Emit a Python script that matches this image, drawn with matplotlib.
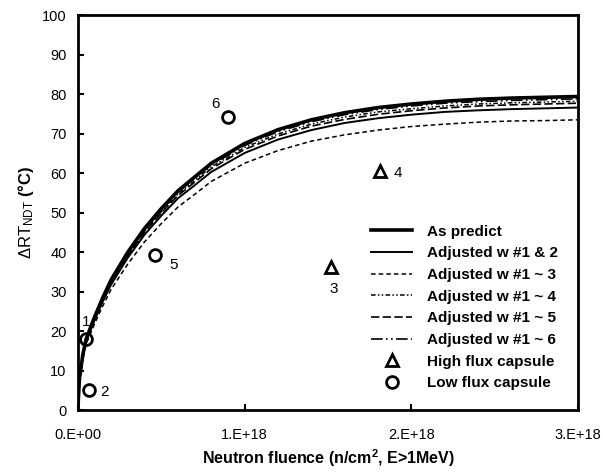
import matplotlib
matplotlib.use("Agg")
import matplotlib.pyplot as plt

plt.rcParams['font.family'] = ['Liberation Sans', 'DejaVu Sans']
plt.rcParams['mathtext.fontset'] = 'custom'
plt.rcParams['mathtext.rm'] = 'Liberation Sans'
plt.rcParams['mathtext.bf'] = 'Liberation Sans:bold'
plt.rcParams['mathtext.it'] = 'Liberation Sans:italic'

# fluence in units of 1e18 n/cm2
fluence = [0, 0.01, 0.03, 0.05, 0.1, 0.15, 0.2, 0.3, 0.4, 0.5, 0.6, 0.7, 0.8, 0.9,
           1.0, 1.2, 1.4, 1.6, 1.8, 2.0, 2.2, 2.4, 2.6, 2.8, 3.0]
as_predict = [0, 8, 14, 18, 23.5, 28.5, 33, 40, 46, 51, 55.5, 59, 62.5, 65,
              67.5, 71, 73.5, 75.3, 76.6, 77.5, 78.2, 78.7, 79.0, 79.2, 79.4]
adj_1_2 = [0, 7.7, 13.5, 17.4, 22.7, 27.5, 31.8, 38.6, 44.4, 49.2, 53.6, 56.9, 60.3, 62.7,
           65.1, 68.5, 70.9, 72.7, 73.9, 74.8, 75.5, 75.9, 76.2, 76.4, 76.6]
adj_1_3 = [0, 7.4, 13.0, 16.7, 21.8, 26.4, 30.6, 37.0, 42.6, 47.2, 51.4, 54.6, 57.9, 60.2,
           62.5, 65.7, 68.1, 69.7, 70.9, 71.8, 72.4, 72.9, 73.2, 73.3, 73.5]
adj_1_4 = [0, 7.9, 13.8, 17.7, 23.1, 28.1, 32.5, 39.4, 45.3, 50.2, 54.7, 58.1, 61.6, 64.0,
           66.5, 69.9, 72.4, 74.2, 75.5, 76.3, 77.0, 77.5, 77.8, 78.0, 78.2]
adj_1_5 = [0, 7.8, 13.7, 17.6, 23.0, 27.9, 32.3, 39.1, 45.0, 49.9, 54.3, 57.7, 61.1, 63.6,
           66.0, 69.4, 71.9, 73.6, 74.9, 75.8, 76.5, 77.0, 77.3, 77.5, 77.7]
adj_1_6 = [0, 7.9, 13.9, 17.9, 23.3, 28.3, 32.8, 39.7, 45.7, 50.6, 55.1, 58.6, 62.1, 64.5,
           67.0, 70.5, 73.0, 74.8, 76.1, 77.0, 77.7, 78.1, 78.4, 78.6, 78.8]

high_x = [1.52, 1.81]
high_y = [36.3, 60.5]
high_lbl = ['3', '4']
low_x = [0.05, 0.07, 0.46, 0.90]
low_y = [18, 5, 39.3, 74.3]
low_lbl = ['1', '2', '5', '6']

x_ticks = [0, 1, 2, 3]
x_tick_labels = ['0.E+00', '1.E+18', '2.E+18', '3.E+18']

fig = plt.figure(figsize=(6.03, 4.73), dpi=100)
ax = fig.add_axes([0.129, 0.133, 0.830, 0.835])

ax.plot(fluence, as_predict, color='black', lw=2.6, label='As predict')
ax.plot(fluence, adj_1_2, color='black', lw=1.4, label='Adjusted w #1 & 2')
ax.plot(fluence, adj_1_3, color='black', lw=1.1, ls=(0, (3, 2)), label='Adjusted w #1 ~ 3')
ax.plot(fluence, adj_1_4, color='black', lw=1.1, ls=(0, (3, 1.5, 1, 1.5, 1, 1.5)), label='Adjusted w #1 ~ 4')
ax.plot(fluence, adj_1_5, color='black', lw=1.2, ls=(0, (5, 2)), label='Adjusted w #1 ~ 5')
ax.plot(fluence, adj_1_6, color='black', lw=1.2, ls=(0, (7, 2, 1, 2, 1, 2)), label='Adjusted w #1 ~ 6')
ax.plot(high_x, high_y, ls='none', marker='^', ms=8, mfc='none', mec='black', mew=2, label='High flux capsule')
ax.plot(low_x, low_y, ls='none', marker='o', ms=8.5, mfc='none', mec='black', mew=2, label='Low flux capsule')

offs_high = {'3': (2, -16), '4': (13, -1)}
for x, y, t in zip(high_x, high_y, high_lbl):
    dx, dy = offs_high[t]
    ax.annotate(t, (x, y), xytext=(dx, dy), textcoords='offset points', fontsize=11,
                ha='center', va='center')
offs_low = {'1': (0, 12), '2': (11, -1), '5': (14, -7), '6': (-9, 9)}
for x, y, t in zip(low_x, low_y, low_lbl):
    dx, dy = offs_low[t]
    ax.annotate(t, (x, y), xytext=(dx, dy), textcoords='offset points', fontsize=11,
                ha='center', va='center')

ax.set_xlim(0, 3)
ax.set_ylim(0, 100)
ax.set_xticks(x_ticks)
ax.set_xticklabels(x_tick_labels)
ax.set_yticks(range(0, 101, 10))
ax.tick_params(direction='in', length=4, width=1.5, labelsize=10.5, pad=13)
ax.tick_params(axis='y', pad=8)
for s in ax.spines.values():
    s.set_linewidth(2)

ax.set_xlabel(r'Neutron fluence (n/cm$^{\mathbf{2}}$, E>1MeV)', fontsize=11.5, fontweight='bold', labelpad=4)
ax.set_ylabel(r'$\Delta$RT$_{\mathrm{NDT}}$ $\mathbf{(°C)}$', fontsize=12, labelpad=4)

leg = ax.legend(loc='lower right', frameon=False, prop={'weight': 'bold', 'size': 11},
                handlelength=2.7, labelspacing=0.5, borderaxespad=0.9, handletextpad=1.0)

fig.savefig('out.png', dpi=100)
